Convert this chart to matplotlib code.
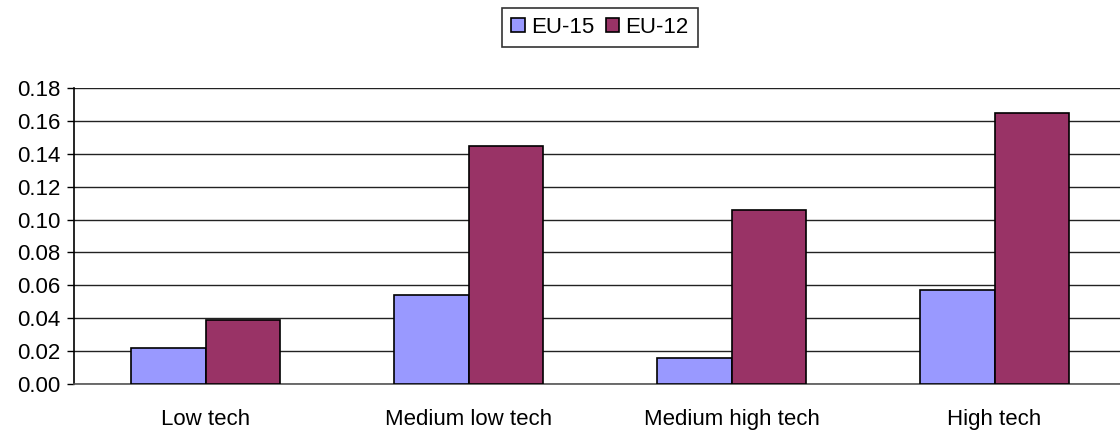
import matplotlib
matplotlib.use("Agg")
import matplotlib.pyplot as plt
import numpy as np

plt.rcParams['font.family'] = ['Liberation Sans', 'DejaVu Sans']

categories = ["Low tech", "Medium low tech", "Medium high tech", "High tech"]
series_names = ["EU-15", "EU-12"]
eu15 = [0.022, 0.054, 0.016, 0.057]
eu12 = [0.039, 0.145, 0.106, 0.165]
yticks = [0.00, 0.02, 0.04, 0.06, 0.08, 0.10, 0.12, 0.14, 0.16, 0.18]

fig = plt.figure(figsize=(11.2, 4.3), dpi=100)
ax = fig.add_axes([74/1120, 1-384/430, 1052/1120, (384-88)/430])

x = np.arange(len(categories))
w = 0.285
b1 = ax.bar(x - w/2, eu15, w, color='#9999FF', edgecolor='black', linewidth=1.2, label=series_names[0], zorder=3)
b2 = ax.bar(x + w/2, eu12, w, color='#993366', edgecolor='black', linewidth=1.2, label=series_names[1], zorder=3)

ax.set_xlim(-0.5, len(categories) - 0.5)
ax.set_ylim(0, 0.18)
ax.set_yticks(yticks)
ax.set_yticklabels([f"{v:.2f}" for v in yticks], fontsize=16)
ax.set_xticks(x)
ax.set_xticklabels(categories, fontsize=16)
ax.tick_params(axis='x', length=0, pad=18)
ax.tick_params(axis='y', length=5, width=1, direction='out', pad=5)
ax.yaxis.grid(True, color='#222222', linewidth=1, zorder=0)
ax.set_axisbelow(True)
for s in ['top', 'right']:
    ax.spines[s].set_visible(False)
ax.spines['left'].set_linewidth(1.2)
ax.spines['bottom'].set_linewidth(1.2)
ax.spines['bottom'].set_color('#555555')

leg = fig.legend(handles=[b1, b2], loc='upper center', bbox_to_anchor=(600/1120, 1-8/430),
                 ncol=2, fontsize=16, frameon=True, fancybox=False, edgecolor='black',
                 handlelength=0.6, handleheight=0.6, handletextpad=0.3, columnspacing=0.5,
                 borderpad=0.4, borderaxespad=0)
leg.get_frame().set_linewidth(1.2)

fig.savefig("out.png", dpi=100)
